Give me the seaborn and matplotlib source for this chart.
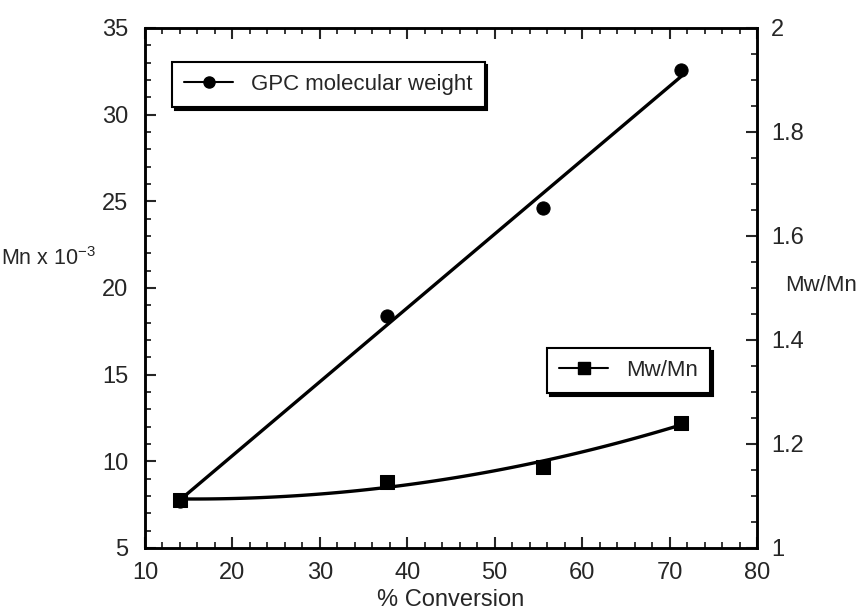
import numpy as np
import pandas as pd
import matplotlib
matplotlib.use("Agg")
import matplotlib.pyplot as plt
from matplotlib.lines import Line2D
from matplotlib.ticker import MultipleLocator
import seaborn as sns

# data
conversion = [14.0, 37.7, 55.5, 71.3]
mn = [7.7, 18.4, 24.6, 32.6]          # Mn x 10^-3
pdi = [1.092, 1.126, 1.156, 1.241]    # Mw/Mn

df = pd.DataFrame({"conv": conversion, "mn": mn, "pdi": pdi})

sns.set_style("ticks")
plt.rcParams['font.family'] = ['Liberation Sans', 'DejaVu Sans']
plt.rcParams['mathtext.fontset'] = 'custom'
plt.rcParams['mathtext.rm'] = 'Liberation Sans'
plt.rcParams['mathtext.it'] = 'Liberation Sans'

fig = plt.figure(figsize=(8.58, 6.13), dpi=100)
ax = fig.add_axes([145/858, 1-548/613, (757-145)/858, (548-28)/613])
ax2 = ax.twinx()

# fitted curves
xs = np.linspace(df.conv.min(), df.conv.max(), 100)
k1 = np.polyfit(df.conv, df.mn, 1)
k2 = np.polyfit(df.conv, df.pdi, 2)
ax.plot(xs, np.polyval(k1, xs), color='black', lw=2.4)
ax2.plot(xs, np.polyval(k2, xs), color='black', lw=2.4)

sns.scatterplot(data=df, x="conv", y="mn", ax=ax, marker='o', s=90,
                color='black', edgecolor='black', zorder=5, legend=False)
sns.scatterplot(data=df, x="conv", y="pdi", ax=ax2, marker='s', s=90,
                color='black', edgecolor='black', zorder=5, legend=False)

ax.set_xlim(10, 80)
ax.set_ylim(5, 35)
ax2.set_ylim(1, 2)
ax.xaxis.set_major_locator(MultipleLocator(10))
ax.xaxis.set_minor_locator(MultipleLocator(2))
ax.yaxis.set_major_locator(MultipleLocator(5))
ax.yaxis.set_minor_locator(MultipleLocator(1))
ax2.yaxis.set_major_locator(MultipleLocator(0.2))
ax2.yaxis.set_minor_locator(MultipleLocator(0.05))
ax2.set_yticks(ax2.get_yticks())
ax2.set_yticklabels([f"{v:g}" for v in ax2.get_yticks()])
ax2.set_ylim(1, 2)

ax.tick_params(axis='x', which='both', direction='in', top=True, labelsize=17, pad=10)
ax.tick_params(axis='y', which='both', direction='in', right=False, labelsize=17, pad=12)
ax.tick_params(which='major', length=8, width=1.5)
ax.tick_params(which='minor', length=4, width=1.3)
ax2.tick_params(axis='y', which='both', direction='in', labelsize=17, pad=10)
ax2.tick_params(which='major', length=8, width=1.5)
ax2.tick_params(which='minor', length=4, width=1.3)
for a in (ax, ax2):
    for s in a.spines.values():
        s.set_visible(True)
        s.set_linewidth(1.8)
        s.set_color('black')

ax.set_xlabel("% Conversion", fontsize=17, labelpad=4)
ax.set_ylabel("Mn x 10$^{-3}$", fontsize=15.5, rotation=0, labelpad=0, ha='center')
ax.yaxis.set_label_coords(-0.158, 0.535)
ax2.set_ylabel("Mw/Mn", fontsize=16, rotation=0, labelpad=0, ha='center')
ax2.yaxis.set_label_coords(1.105, 0.525)

h1 = Line2D([], [], color='black', lw=1.5, marker='o', markersize=8)
h2 = Line2D([], [], color='black', lw=1.5, marker='s', markersize=8)
shadow = {'color': 'black', 'alpha': 1}
leg1 = ax.legend([h1], ["GPC molecular weight"], loc='upper left',
                 bbox_to_anchor=(0.044, 0.935), fontsize=16, fancybox=False,
                 edgecolor='black', framealpha=1, shadow=shadow,
                 handlelength=2.2, borderpad=0.55, borderaxespad=0)
leg1.get_frame().set_linewidth(1.5)
leg2 = ax2.legend([h2], ["Mw/Mn"], loc='upper left',
                  bbox_to_anchor=(0.657, 0.385), fontsize=16, fancybox=False,
                  edgecolor='black', framealpha=1, shadow=shadow,
                  handlelength=2.2, borderpad=0.55, borderaxespad=0)
leg2.get_frame().set_linewidth(1.5)

fig.savefig("out.png", dpi=100)
